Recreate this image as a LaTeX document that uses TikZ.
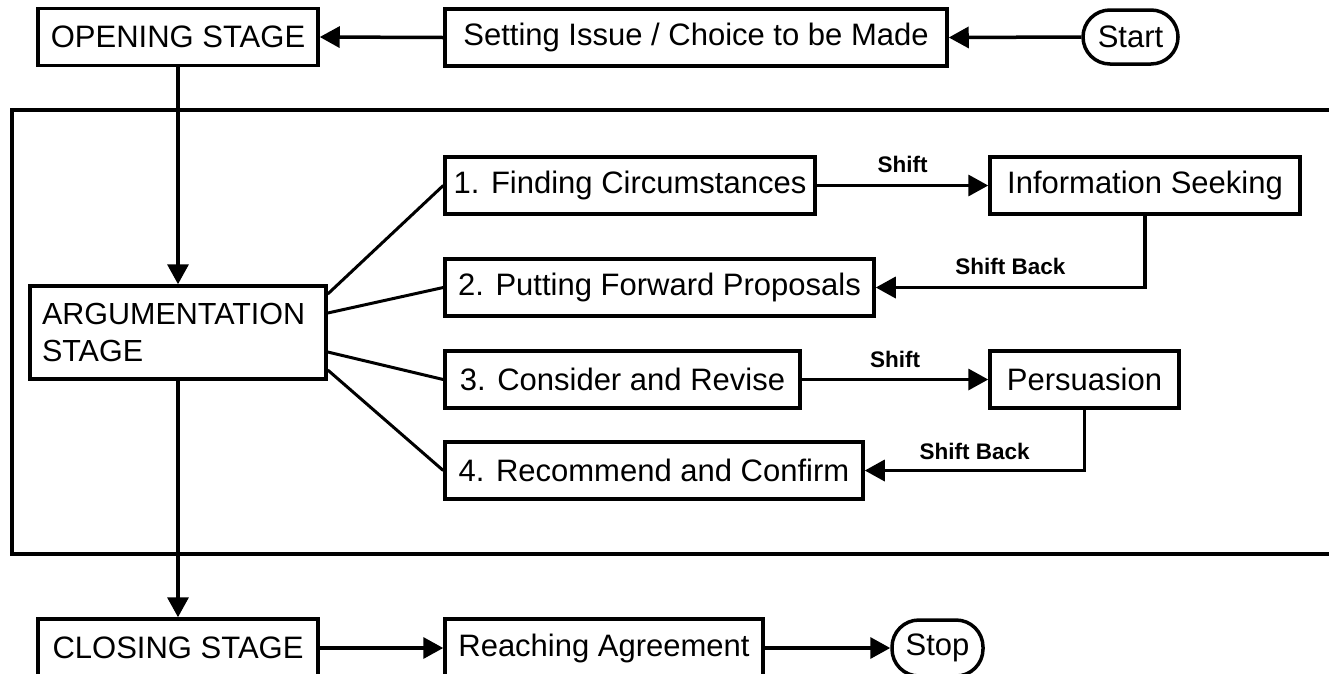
\documentclass[tikz,border=0pt]{standalone}
\usepackage{fontspec}
\setmainfont{Liberation Sans}
\usetikzlibrary{arrows.meta}
\begin{document}
\begin{tikzpicture}[x=1pt,y=-1pt,
  stagebox/.style={draw, line width=3.5pt, inner sep=0pt, minimum height=57pt,
    font=\fontsize{31}{37}\selectfont},
  terminal/.style={stagebox, rounded corners=27pt},
  flow/.style={line width=3.5pt, -{Triangle[length=20pt,width=21pt]}},
  fan/.style={line width=3pt},
  shiftlabel/.style={font=\fontsize{22.5}{26}\selectfont\bfseries, inner sep=0pt}]
  \useasboundingbox (0,0) rectangle (1329,673);
  \clip (0,0) rectangle (1329,673);

  % argumentation frame (open to the right)
  \draw[line width=3.5pt] (1345,110) -- (12,110) -- (12,554) -- (1345,554);

  % opening row
  \node[stagebox, minimum width=280pt] (opening) at (178,37) {OPENING STAGE};
  \node[stagebox, minimum width=502pt] (setting) at (696,37.5) {Setting Issue / Choice to be Made};
  \node[terminal, minimum width=95pt, minimum height=54pt] (start) at (1130.5,37) {Start};

  % argumentation stage
  \node[stagebox, minimum height=93pt, text width=272pt, inner xsep=12pt, align=left,
        font=\fontsize{30.5}{37}\selectfont] (arg) at (178,332.5) {ARGUMENTATION\\STAGE};

  \node[stagebox, minimum width=370pt] (b1) at (630,185.5) {1. Finding Circumstances};
  \node[stagebox, minimum width=310pt] (info) at (1145,185.5) {Information Seeking};
  \node[stagebox, minimum width=429pt] (b2) at (659.5,287.5) {2. Putting Forward Proposals};
  \node[stagebox, minimum width=355pt] (b3) at (622.5,379.5) {3. Consider and Revise};
  \node[stagebox, minimum width=189pt] (pers) at (1084.5,379.5) {Persuasion};
  \node[stagebox, minimum width=418pt] (b4) at (654,470.5) {4. Recommend and Confirm};

  % closing row
  \node[stagebox, minimum width=280pt, minimum height=58pt] (closing) at (178,648) {CLOSING STAGE};
  \node[stagebox, minimum width=318pt, minimum height=58pt] (reach) at (604,648) {Reaching Agreement};
  \node[terminal, minimum width=91pt, minimum height=56pt] (stop) at (937.5,648) {Stop};

  % main flow
  \draw[flow] (start.west) -- (setting.east);
  \draw[flow] (setting.west) -- (opening.east);
  \draw[flow] (opening.south) -- (arg.north);
  \draw[flow] (arg.south) -- (closing.north);
  \draw[flow] (closing.east) -- (reach.west);
  \draw[flow] (reach.east) -- (stop.west);

  % fan to the four sub-stages
  \draw[fan] ([yshift=38.5pt]arg.east) -- (b1.west);
  \draw[fan] ([yshift=19.5pt]arg.east) -- (b2.west);
  \draw[fan] ([yshift=-19.5pt]arg.east) -- (b3.west);
  \draw[fan] ([yshift=-37.5pt]arg.east) -- (b4.west);

  % dialogue shifts
  \draw[flow] (b1.east) -- node[shiftlabel, yshift=21pt] (s1) {Shift} (info.west);
  \draw[flow] (info.south) |- node[shiftlabel, pos=0.75, yshift=21pt] (sb1) {Shift Back} (b2.east);
  \draw[flow] (b3.east) -- node[shiftlabel, yshift=20pt] (s2) {Shift} (pers.west);
  \draw[flow] (pers.south) |- node[shiftlabel, pos=0.75, yshift=19pt] (sb2) {Shift Back} (b4.east);
\end{tikzpicture}
\end{document}
